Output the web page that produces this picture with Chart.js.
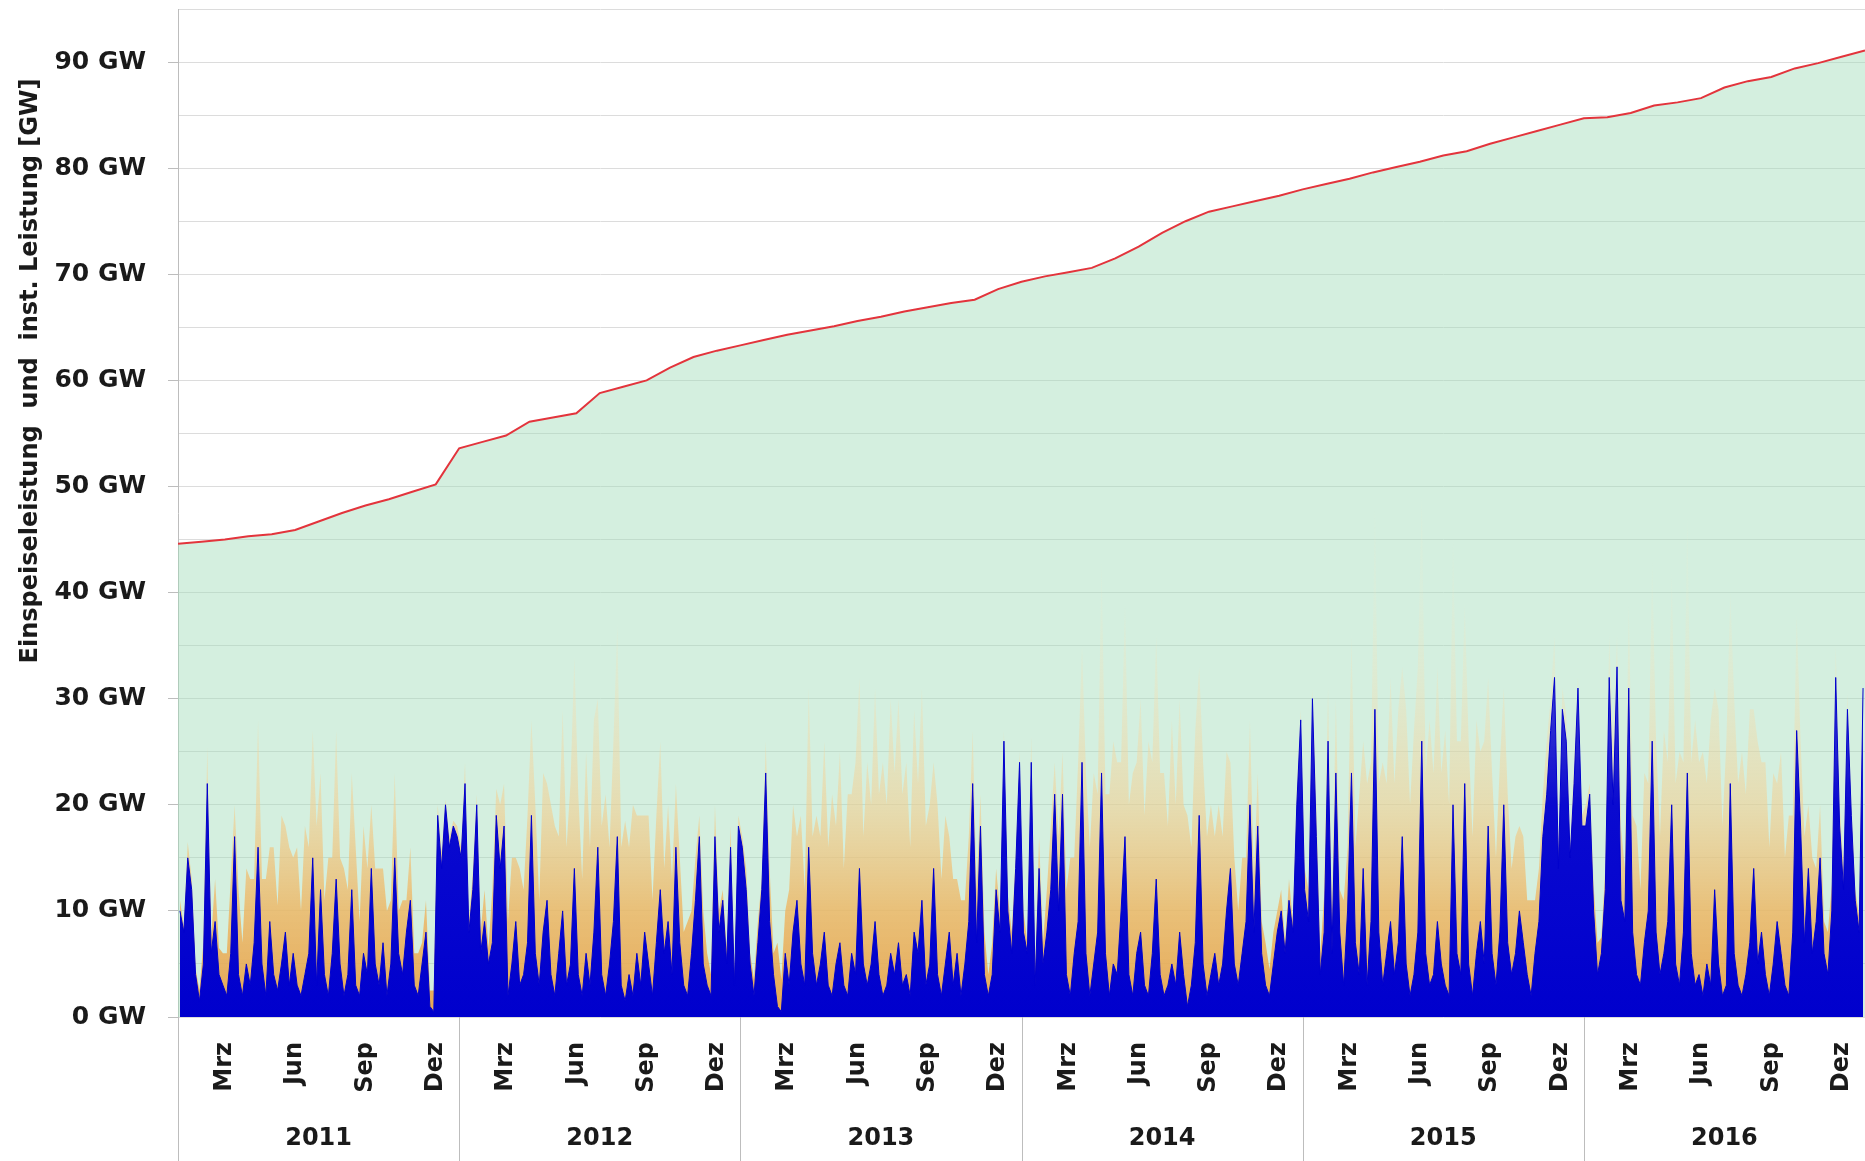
<!DOCTYPE html>
<html>
<head>
<meta charset="utf-8">
<script src="https://cdn.jsdelivr.net/npm/chart.js@4.4.1/dist/chart.umd.min.js"></script>
<style>
  html, body { margin: 0; padding: 0; background: #fff; }
  canvas { display: block; }
</style>
</head>
<body>
<canvas id="chart" width="1865" height="1161"></canvas>
<script>
// --- Daten ---
const years = ['2011', '2012', '2013', '2014', '2015', '2016'];
const monthLabels = ['Mrz', 'Jun', 'Sep', 'Dez'];
const monthTickIdx = [2, 5, 8, 11];
const yTitle = 'Einspeiseleistung  und  inst. Leistung [GW]';

// installierte Leistung Wind + PV, Monatsanfang Jan 2011 .. Jan 2017 [GW]
const capacityGW = [
  44.6, 44.8, 45.0, 45.3, 45.5, 45.9, 46.7, 47.5, 48.2, 48.8, 49.5, 50.2,
  53.6, 54.2, 54.8, 56.1, 56.5, 56.9, 58.8, 59.4, 60.0, 61.2, 62.2, 62.8,
  63.3, 63.8, 64.3, 64.7, 65.1, 65.6, 66.0, 66.5, 66.9, 67.3, 67.6, 68.6,
  69.3, 69.8, 70.2, 70.6, 71.5, 72.6, 73.9, 75.0, 75.9, 76.4, 76.9, 77.4,
  78.0, 78.5, 79.0, 79.6, 80.1, 80.6, 81.2, 81.6, 82.3, 82.9, 83.5, 84.1,
  84.7, 84.8, 85.2, 85.9, 86.2, 86.6, 87.6, 88.2, 88.6, 89.4, 89.9, 90.5,
  91.1
];

// Wind-Einspeisung, 6 Werte je Monat [GW]
const wind2011 = [10,8,15,12,4,1.5, 5,22,6,9,4,3, 2,6,17,4,2,5, 3,7,16,5,2,9, 4,2.5,5,8,3,6, 3,2,4,6,15,3,
                  12,4,2,6,13,5, 2,4,12,3,2,6, 4,14,5,3,7,2, 5,15,6,4,8,11, 3,2,5,8,1,0.5, 19,14,20,16,18,17];
const wind2012 = [15,22,8,12,20,6, 9,5,7,19,14,18, 2,5,9,3,4,7, 19,6,3,8,11,4, 2,6,10,3,5,14, 4,2,6,3,8,16,
                  4,2,5,9,17,3, 1.5,4,2,6,3,8, 5,2,7,12,6,9, 4,16,7,3,2,6, 11,17,5,3,2,17, 8,11,5,16,3,18];
const wind2013 = [16,12,5,2,7,12, 23,9,4,1,0.5,6, 3,8,11,5,3,16, 6,3,5,8,3,2, 5,7,3,2,6,4, 14,5,3,5,9,4,
                  2,3,6,4,7,3, 4,2,8,6,11,3, 5,14,4,2,5,8, 3,6,2,5,9,22, 7,18,4,2,4,12, 8,26,10,6,14,24];
const wind2014 = [8,6,24,3,14,5, 8,12,21,10,21,4, 2,6,9,24,6,2, 5,8,23,6,2,5, 4,10,17,4,2,6, 8,3,2,6,13,4,
                  2,3,5,3,8,4, 1,3,7,19,5,2, 4,6,3,5,10,14, 5,3,6,9,20,8, 18,6,3,2,5,8, 10,6,11,8,20,28];
const wind2015 = [12,9,30,17,4,8, 26,6,23,8,3,10, 23,7,4,14,3,9, 29,8,3,6,9,4, 7,17,5,2,4,8, 26,6,3,4,9,5,
                  3,2,20,6,4,22, 5,2,6,9,5,18, 6,3,8,20,7,4, 6,10,7,4,2,6, 9,17,21,27,32,14, 29,26,15,22,31,18];
const wind2016 = [18,21,10,4,6,12, 32,20,33,11,9,31, 8,4,3,7,10,26, 8,4,6,9,20,5, 3,8,23,6,3,4, 2,5,3,12,5,2,
                  3,22,6,3,2,4, 7,14,5,8,4,2, 5,9,6,3,2,8, 27,18,7,14,6,9, 15,6,4,10,32,18, 12,29,19,11,8,31];

// PV-Einspeisung (Tagesspitzen), 6 Werte je Monat [GW]
const solar2011 = [1,0.5,1.5,1,0.5,1, 2,3.5,1.5,4,2.5,3, 4,7,3,8,5,9, 10,6,12,8,11,7, 12,8,14,10,13,9, 13,8,14,10,12,15,
                   11,7,13,9,14,10, 12,8,11,13,7,12, 10,6,9,11,7,8, 6,8,4,7,3,5, 3,4,2,3,1.5,2, 1,1.5,0.5,1,0.5,1];
const solar2012 = [1,2,1,1.5,1,2, 3,1.5,5,2.5,6,4, 7,10,6,11,8,12, 9,14,8,15,11,16, 16,11,19,13,17,20, 17,11,19,13,20,14,
                   14,19,11,17,20,13, 17,12,18,13,16,11, 14,9,12,14,8,11, 9,6,8,5,7,4, 4,2,5,3,2,3, 2,1,1.5,2,1,1];
const solar2013 = [1,2,1,1.5,2,1, 3,5,2,6,3,4, 9,12,6,14,9,15, 11,16,12,18,13,19, 13,18,11,19,15,20, 18,12,21,15,22,17,
                   22,17,24,19,23,18, 20,14,21,16,20,15, 15,10,16,11,14,9, 10,7,9,6,8,5, 5,3,4,2,3,2, 2,1,1.5,2,1,1];
const solar2014 = [2,1,2.5,1.5,3,2, 4,6,3,7,4,8, 13,9,15,11,17,14, 18,13,20,15,19,21, 20,14,22,16,21,18, 22,16,24,18,23,19,
                   21,15,23,17,22,16, 18,13,20,14,19,15, 16,11,17,12,15,10, 10,7,9,6,8,5, 5,3,4,2.5,3,2, 2,1,2,1,1.5,1];
const solar2015 = [2,3,1,3,2,3.5, 5,3,7,4,8,6, 13,9,17,12,19,15, 19,14,21,16,23,18, 22,16,24,18,23,25, 23,17,25,19,24,18,
                   24,18,25,20,22,17, 21,15,22,16,21,14, 17,12,16,11,14,10, 11,8,10,7,9,5, 5,4,5,3,4,2, 2,2.5,1,2,1,1];
const solar2016 = [2,1,2.5,3,1.5,2, 4,6,3,7,5,8, 11,14,9,16,12,17, 18,13,21,15,22,17, 22,16,24,18,25,20, 23,17,25,19,24,16,
                   23,18,24,19,23,17, 22,15,21,16,20,14, 18,13,19,12,17,11, 11,8,10,6,9,5, 5,3,4,2.5,3,2, 2,1.5,1,1,1.5,1];

const windByYear = [wind2011, wind2012, wind2013, wind2014, wind2015, wind2016];
const solarByYear = [solar2011, solar2012, solar2013, solar2014, solar2015, solar2016];

// --- Punkte auf Monatsachse (0 = Jan 2011) ---
const toPoints = arrs => arrs.flatMap((arr, y) => arr.map((v, i) => ({ x: y * 12 + (i + 0.5) / 6, y: v })));
const windPts = toPoints(windByYear);
const solarPts = toPoints(solarByYear);
const capPts = capacityGW.map((v, m) => ({ x: m, y: v }));

const monthTicks = years.flatMap((_, k) => monthTickIdx.map(m => k * 12 + m));
const yearTicks = years.map((_, k) => k * 12 + 6);

const FONT = 'DejaVu Sans';
const TXT = '#1a1a1a';

function vGrad(ctx, stops) {
  const chart = ctx.chart;
  if (!chart.chartArea) return null;
  const y = chart.scales.y;
  const g = chart.ctx.createLinearGradient(0, y.getPixelForValue(0), 0, y.getPixelForValue(40));
  stops.forEach(([o, c]) => g.addColorStop(o, c));
  return g;
}

const frame = {
  id: 'frame',
  afterDraw(chart) {
    const { ctx, chartArea, scales } = chart;
    ctx.save();
    ctx.strokeStyle = '#bdbdbd';
    ctx.lineWidth = 1;
    ctx.beginPath();
    for (let k = 0; k < years.length; k++) {
      const px = Math.round(scales.x.getPixelForValue(k * 12)) + 0.5;
      ctx.moveTo(px, chartArea.bottom);
      ctx.lineTo(px, chart.height);
    }
    ctx.stroke();
    // Achsentitel
    ctx.translate(31, 371);
    ctx.rotate(-Math.PI / 2);
    ctx.fillStyle = TXT;
    ctx.font = 'bold 24px "' + FONT + '"';
    ctx.textAlign = 'center';
    ctx.textBaseline = 'middle';
    ctx.fillText(yTitle, 0, 0);
    ctx.restore();
  }
};

new Chart(document.getElementById('chart'), {
  type: 'line',
  data: {
    datasets: [
      {
        label: 'inst. Leistung', data: capPts, stack: 'cap', order: 3,
        borderColor: '#e3343c', borderWidth: 2,
        backgroundColor: 'rgba(160,220,185,0.45)', fill: 'origin'
      },
      {
        label: 'Solar', data: solarPts, stack: 'gen', order: 2, borderWidth: 0,
        backgroundColor: ctx => vGrad(ctx, [
          [0, 'rgba(232,158,66,0.9)'], [0.25, 'rgba(238,180,95,0.8)'],
          [0.5, 'rgba(244,205,140,0.55)'], [0.8, 'rgba(248,222,175,0.28)'], [1, 'rgba(250,230,190,0.1)']
        ]),
        fill: 'origin'
      },
      {
        label: 'Wind', data: windPts, stack: 'gen', order: 1,
        borderColor: 'rgb(0,0,205)', borderWidth: 1,
        backgroundColor: ctx => vGrad(ctx, [
          [0, 'rgb(0,0,205)'], [0.5, 'rgb(10,10,208)'], [1, 'rgba(60,60,215,0.8)']
        ]),
        fill: 'origin'
      }
    ]
  },
  options: {
    responsive: false,
    animation: false,
    devicePixelRatio: 1,
    layout: { padding: { top: 9, left: 0, right: 0, bottom: 0 } },
    elements: { line: { tension: 0 }, point: { radius: 0 } },
    plugins: { legend: { display: false }, tooltip: { enabled: false } },
    scales: {
      x: {
        type: 'linear', min: 0, max: 72, position: 'bottom', weight: 0,
        grid: { display: false, drawTicks: false }, border: { display: false },
        afterBuildTicks: s => { s.ticks = monthTicks.map(v => ({ value: v })); },
        ticks: {
          autoSkip: false, minRotation: 90, maxRotation: 90, padding: 25, color: TXT,
          font: { family: FONT, weight: 'bold', size: 24 },
          callback: v => monthLabels[monthTickIdx.indexOf(v % 12)]
        },
        afterFit: s => { s.height = 91; s.paddingLeft = 0; s.paddingRight = 0; }
      },
      xYear: {
        type: 'linear', min: 0, max: 72, position: 'bottom', weight: 1,
        grid: { display: false, drawTicks: false }, border: { display: false },
        afterBuildTicks: s => { s.ticks = yearTicks.map(v => ({ value: v })); },
        ticks: {
          autoSkip: false, minRotation: 0, maxRotation: 0, padding: 16, color: TXT,
          font: { family: FONT, weight: 'bold', size: 24 },
          callback: v => years[(v - 6) / 12]
        },
        afterFit: s => { s.height = 53; s.paddingLeft = 0; s.paddingRight = 0; }
      },
      y: {
        stacked: true, min: 0, max: 95,
        grid: {
          color: '#dcdcdc', tickLength: 10,
          tickColor: c => c.tick.value % 10 === 0 ? '#bdbdbd' : 'rgba(0,0,0,0)'
        },
        border: { display: true, color: '#bdbdbd' },
        ticks: {
          stepSize: 5, padding: 22, color: TXT,
          font: { family: FONT, weight: 'bold', size: 25 },
          callback: v => v % 10 === 0 ? v + ' GW' : ''
        },
        afterFit: s => { s.width = 178; s.paddingTop = 0; s.paddingBottom = 0; }
      }
    }
  },
  plugins: [frame]
});
</script>
</body>
</html>
